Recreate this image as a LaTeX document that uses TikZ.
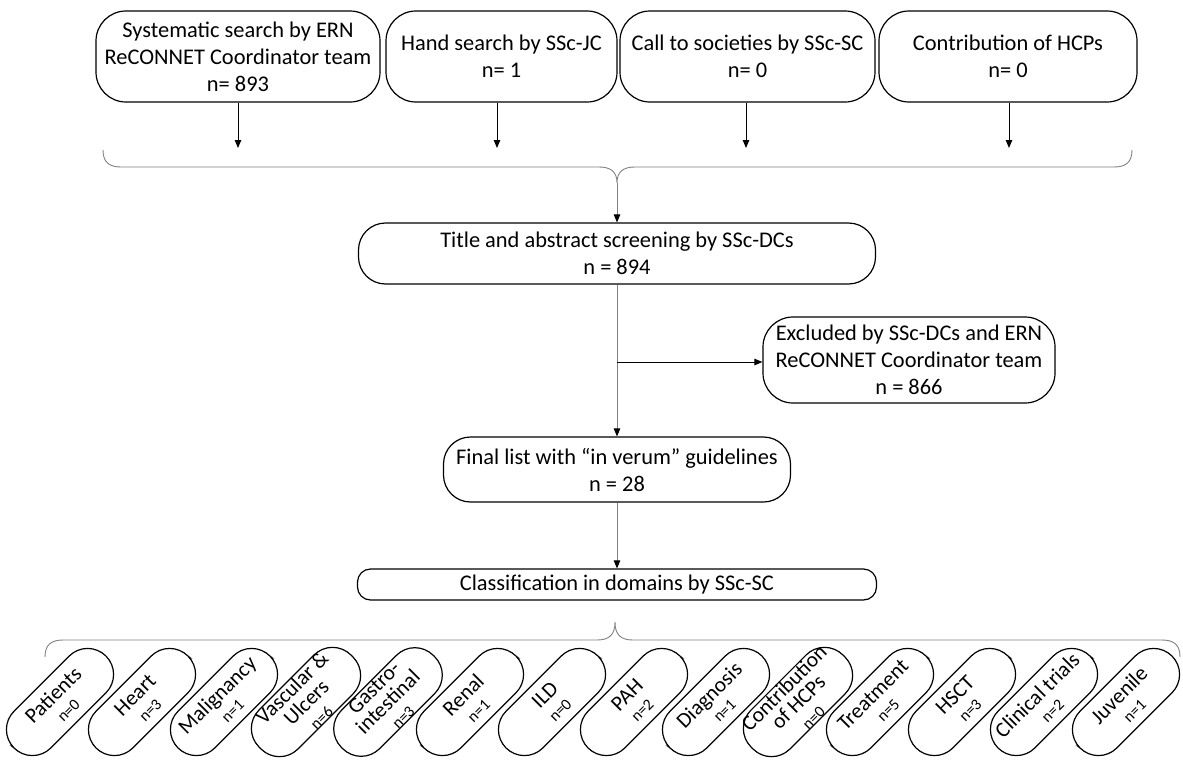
\documentclass[tikz,border=0pt]{standalone}
\usepackage{fontspec}
\setmainfont{Carlito}
\usetikzlibrary{arrows.meta}
\newcommand\smalln{\fontsize{16}{17}\selectfont}
\begin{document}
\begin{tikzpicture}[x=1pt,y=-1pt,
  box/.style={draw,line width=1.2pt,align=center,inner sep=0pt,font=\fontsize{22.4}{27}\selectfont},
  arr/.style={line width=1pt,-{Triangle[length=8pt,width=6.5pt]}},
  garr/.style={draw=gray,line width=0.9pt,-{Triangle[length=8pt,width=6.5pt,color=black,fill=black]}},
  brc/.style={draw=gray,line width=0.9pt},
  pill/.style={draw,line width=1.2pt,rotate=45,minimum width=130pt,minimum height=52pt,rounded corners=26pt,align=center,inner sep=0pt,font=\fontsize{21.5}{20}\selectfont}]
\useasboundingbox (0,0) rectangle (1183,763);

% top sources
\node[box,minimum width=284pt,minimum height=91pt,rounded corners=30pt] (s1) at (238,56.5) {Systematic search by ERN\\ReCONNET Coordinator team\\n= 893};
\node[box,minimum width=231pt,minimum height=91pt,rounded corners=30pt] (s2) at (501.5,56.5) {Hand search by SSc-JC\\n= 1};
\node[box,minimum width=255pt,minimum height=91pt,rounded corners=30pt] (s3) at (747.5,56.5) {Call to societies by SSc-SC\\n= 0};
\node[box,minimum width=258pt,minimum height=91pt,rounded corners=30pt] (s4) at (1008,56.5) {Contribution of HCPs\\n= 0};

\coordinate (e1) at (238,148);
\coordinate (e2) at (497,148);
\coordinate (e3) at (746,148);
\coordinate (e4) at (1009,148);
\draw[arr] (s1.south) -- (e1);
\draw[arr] (s2.south -| e2) -- (e2);
\draw[arr] (s3.south -| e3) -- (e3);
\draw[arr] (s4.south -| e4) -- (e4);

% top brace
\draw[brc] (103,150) .. controls (103,162) and (109,167) .. (121,167) -- (599,167)
  .. controls (611,167) and (617,172) .. (617,183)
  .. controls (617,172) and (623,167) .. (635,167) -- (1114,167)
  .. controls (1126,167) and (1132,162) .. (1132,150);
\coordinate (bt) at (617,183);

% main column
\node[box,minimum width=517pt,minimum height=61pt,rounded corners=27pt] (title) at (617,253.5) {Title and abstract screening by SSc-DCs\\n = 894};
\node[box,minimum width=292pt,minimum height=86pt,rounded corners=30pt] (excl) at (909,360) {Excluded by SSc-DCs and ERN\\ReCONNET Coordinator team\\n = 866};
\node[box,minimum width=347pt,minimum height=65pt,rounded corners=27pt] (final) at (617,469.5) {Final list with “in verum” guidelines\\n = 28};
\node[box,minimum width=519pt,minimum height=31pt,rounded corners=13pt] (class) at (617,584.5) {Classification in domains by SSc-SC};

\draw[garr] (bt) -- (title);
\draw[garr] (title) -- (final);
\coordinate (br) at (617,362);
\draw[arr] (br) -- (br -| excl.west);
\draw[garr] (final) -- (class);

% bottom bracket
\draw[brc] (45,657) .. controls (45,645) and (51,640) .. (63,640) -- (597,640)
  .. controls (609,640) and (615,635) .. (615,622)
  .. controls (615,635) and (621,640) .. (633,640) -- (1162,640)
  .. controls (1174,640) and (1180,645) .. (1180,657);

% domains
\node[pill] (p1) at (60,702) {Patients\\{\smalln n=0}};
\node[pill] (p2) at (142,702) {Heart\\{\smalln n=3}};
\node[pill] (p3) at (224,702) {Malignancy\\{\smalln n=1}};
\node[pill] (p4) at (306,702) {Vascular \&\\Ulcers\\{\smalln n=6}};
\node[pill] (p5) at (388,702) {Gastro-\\intestinal\\{\smalln n=3}};
\node[pill] (p6) at (470,702) {Renal\\{\smalln n=1}};
\node[pill] (p7) at (552,702) {ILD\\{\smalln n=0}};
\node[pill] (p8) at (634,702) {PAH\\{\smalln n=2}};
\node[pill] (p9) at (716,702) {Diagnosis\\{\smalln n=1}};
\node[pill] (p10) at (798,702) {Contribution\\of HCPs\\{\smalln n=0}};
\node[pill] (p11) at (880,702) {Treatment\\{\smalln n=5}};
\node[pill] (p12) at (962,702) {HSCT\\{\smalln n=3}};
\node[pill] (p13) at (1044,702) {Clinical trials\\{\smalln n=2}};
\node[pill] (p14) at (1126,702) {Juvenile\\{\smalln n=1}};
\end{tikzpicture}
\end{document}
